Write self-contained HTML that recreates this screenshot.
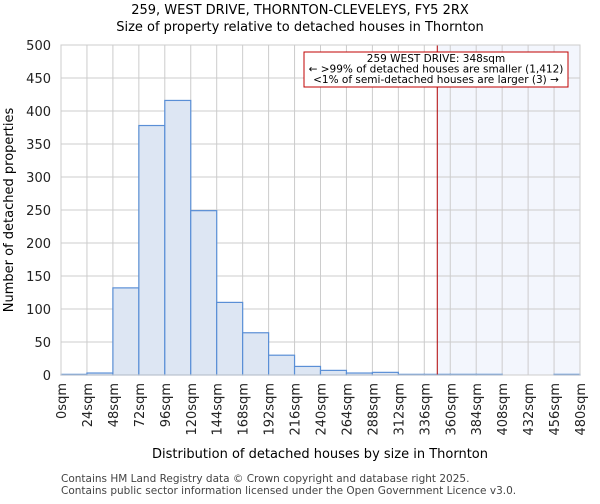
<!DOCTYPE html>
<html><head><meta charset="utf-8"><style>
body{margin:0;background:#fff;font-family:"DejaVu Sans","Liberation Sans",sans-serif}
</style></head><body>
<svg id="chart" width="600" height="500" xmlns="http://www.w3.org/2000/svg" font-family="DejaVu Sans, Liberation Sans, sans-serif"></svg>
<script>
const binStarts=[0,24,48,72,96,120,144,168,192,216,240,264,288,312,336,360,384,408,432,456];
const counts=[1,3,132,378,416,249,110,64,30,13,7,3,4,1,1,1,1,0,0,1];
const yTicks=[0,50,100,150,200,250,300,350,400,450,500];
const xTicks=[0,24,48,72,96,120,144,168,192,216,240,264,288,312,336,360,384,408,432,456,480];
const subjectSize=348;
const NS="http://www.w3.org/2000/svg";
const svg=document.getElementById('chart');
const L=61,R=580,T=45,B=375;
const xs=v=>L+(v-0)/480*(R-L);
const ys=v=>B-v/500*(B-T);
function mk(t,a,p){const e=document.createElementNS(NS,t);for(const k in a)e.setAttribute(k,a[k]);(p||svg).appendChild(e);return e;}
let e;
e=mk('rect',{x:xs(subjectSize),y:T,width:R-xs(subjectSize),height:B-T,fill:'#f3f6fd'});


yTicks.forEach(v=>{
 e=mk('line',{x1:L,x2:R,y1:ys(v),y2:ys(v),stroke:'#cccccc','stroke-width':1});
 
 
 e=mk('text',{x:L-10,y:ys(v)+5,'text-anchor':'end','font-size':13,fill:'#222'});
 e.textContent=v;
 
 
});
xTicks.forEach(v=>{
 e=mk('line',{x1:xs(v),x2:xs(v),y1:T,y2:B,stroke:'#cccccc','stroke-width':1});
 
 
 const x=xs(v)+5,y=B+8;
 e=mk('text',{x:x,y:y,'text-anchor':'end','font-size':13,fill:'#222',transform:`rotate(-90 ${x} ${y})`});
 e.textContent=v+'sqm';
 
 
});
binStarts.forEach((s,i)=>{
 const x0=xs(s),x1=xs(s+24),y=ys(counts[i]);
 e=mk('rect',{x:x0,y:y,width:x1-x0,height:B-y,fill:s>=subjectSize-12?'#f3f6fd':'#dde6f3',stroke:'#5a8fd6','stroke-width':1.2});
 if(counts[i]===0){e.setAttribute('stroke','none');}
 
 
});
e=mk('line',{x1:xs(subjectSize),x2:xs(subjectSize),y1:T,y2:B,stroke:'#b00000','stroke-width':1});


e=mk('rect',{x:L,y:T,width:R-L,height:B-T,fill:'none',stroke:'#cccccc'});


e=mk('rect',{x:304,y:52,width:264,height:35,fill:'#fff',stroke:'#c00000','stroke-width':1});


const ann=['259 WEST DRIVE: 348sqm','← >99% of detached houses are smaller (1,412)','<1% of semi-detached houses are larger (3) →'];
ann.forEach((t,i)=>{
 e=mk('text',{x:436,y:62+i*10.5,'text-anchor':'middle','font-size':10.5,fill:'#000'});
 e.textContent=t;
 
 
});
function txt(t,a,n){e=mk('text',a);e.textContent=t;}
txt('259, WEST DRIVE, THORNTON-CLEVELEYS, FY5 2RX',{x:300,y:14,'text-anchor':'middle','font-size':13,fill:'#000'},'chart-title');
txt('Size of property relative to detached houses in Thornton',{x:300,y:31,'text-anchor':'middle','font-size':13,fill:'#000'},'chart-subtitle');
txt('Distribution of detached houses by size in Thornton',{x:320,y:458,'text-anchor':'middle','font-size':13,fill:'#000'},'x-axis-title');
txt('Number of detached properties',{x:13,y:210,'text-anchor':'middle','font-size':13,fill:'#000',transform:'rotate(-90 13 210)'},'y-axis-title');
txt('Contains HM Land Registry data © Crown copyright and database right 2025.',{x:61,y:482,'font-size':10.5,fill:'#444'},'footer-line-1');
txt('Contains public sector information licensed under the Open Government Licence v3.0.',{x:61,y:494,'font-size':10.5,fill:'#444'},'footer-line-2');
</script>
</body></html>
